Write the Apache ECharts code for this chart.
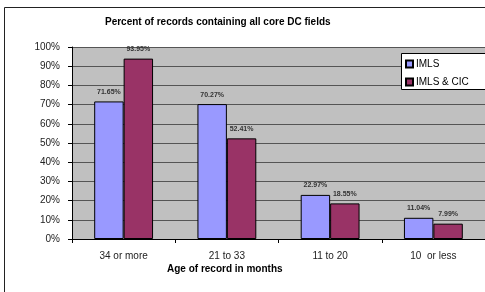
<!DOCTYPE html>
<html>
<head>
<meta charset="utf-8">
<script src="https://cdn.jsdelivr.net/npm/echarts@6/dist/echarts.min.js"></script>
<style>
html, body { margin: 0; padding: 0; background: #fff; }
#chart { width: 485px; height: 292px; }
</style>
</head>
<body>
<div id="chart"></div>
<script>
// data
var categories = ['34 or more', '21 to 33', '11 to 20', '10  or less'];
var imls = [71.65, 70.27, 22.97, 11.04];
var imlsCic = [93.95, 52.41, 18.55, 7.99];

var chart = echarts.init(document.getElementById('chart'));
var font = 'Liberation Sans, Arial, sans-serif';

function barLabel() {
	return {
		show: true,
		position: 'top',
		distance: 6,
		fontSize: 7,
		fontWeight: 'bold',
		fontFamily: font,
		color: '#333',
		formatter: function (p) { return p.value.toFixed(2) + '%'; }
	};
}

var option = {
	animation: false,
	backgroundColor: '#fff',
	textStyle: { fontFamily: font },
	grid: { left: 72, top: 47, width: 414, bottom: 53, backgroundColor: '#c0c0c0', show: true, borderWidth: 0 },
	legend: {
		orient: 'vertical',
		left: 401,
		top: 53,
		z: 20,
		padding: [6, 0, 6, 4],
		itemGap: 8,
		itemWidth: 7,
		itemHeight: 7,
		icon: 'rect',
		textStyle: { fontSize: 10, color: '#000', fontFamily: font, padding: [0, 0, 0, -2] },
		data: ['IMLS', 'IMLS & CIC']
	},
	xAxis: {
		type: 'category',
		data: categories,
		axisLine: { lineStyle: { color: '#000', width: 1 } },
		axisTick: { show: true, length: 4, lineStyle: { color: '#000' } },
		axisLabel: { fontSize: 10, color: '#222', margin: 12, fontFamily: font }
	},
	yAxis: {
		type: 'value',
		min: 0,
		max: 100,
		interval: 10,
		axisLine: { show: true, lineStyle: { color: '#000', width: 1 } },
		axisTick: { show: true, length: 4, lineStyle: { color: '#000' } },
		axisLabel: { formatter: '{value}%', fontSize: 10, color: '#222', margin: 12, fontFamily: font },
		splitLine: { lineStyle: { color: '#555', width: 1 } }
	},
	series: [{
		name: 'IMLS',
		type: 'bar',
		data: imls,
		barGap: '0%',
		barCategoryGap: '43%',
		itemStyle: { color: '#9999ff', borderColor: '#000', borderWidth: 1 },
		label: barLabel()
	}, {
		name: 'IMLS & CIC',
		type: 'bar',
		data: imlsCic,
		itemStyle: { color: '#993366', borderColor: '#000', borderWidth: 1 },
		label: barLabel()
	}],
	graphic: [{
		type: 'rect',
		shape: { x: 4.5, y: 7.5, width: 520, height: 320 },
		style: { fill: null, stroke: '#222', lineWidth: 1 },
		silent: true
	}, {
		type: 'rect',
		z: 10,
		shape: { x: 401.5, y: 53.5, width: 100, height: 36 },
		style: { fill: '#fff', stroke: '#000', lineWidth: 1 },
		silent: true
	}, {
		type: 'text',
		left: 105,
		top: 17,
		style: { text: 'Percent of records containing all core DC fields', fontSize: 10, fontWeight: 'bold', fontFamily: font, fill: '#000' }
	}, {
		type: 'text',
		left: 167,
		top: 264,
		style: { text: 'Age of record in months', fontSize: 10, fontWeight: 'bold', fontFamily: font, fill: '#000' }
	}]
};
chart.setOption(option);
</script>
</body>
</html>
